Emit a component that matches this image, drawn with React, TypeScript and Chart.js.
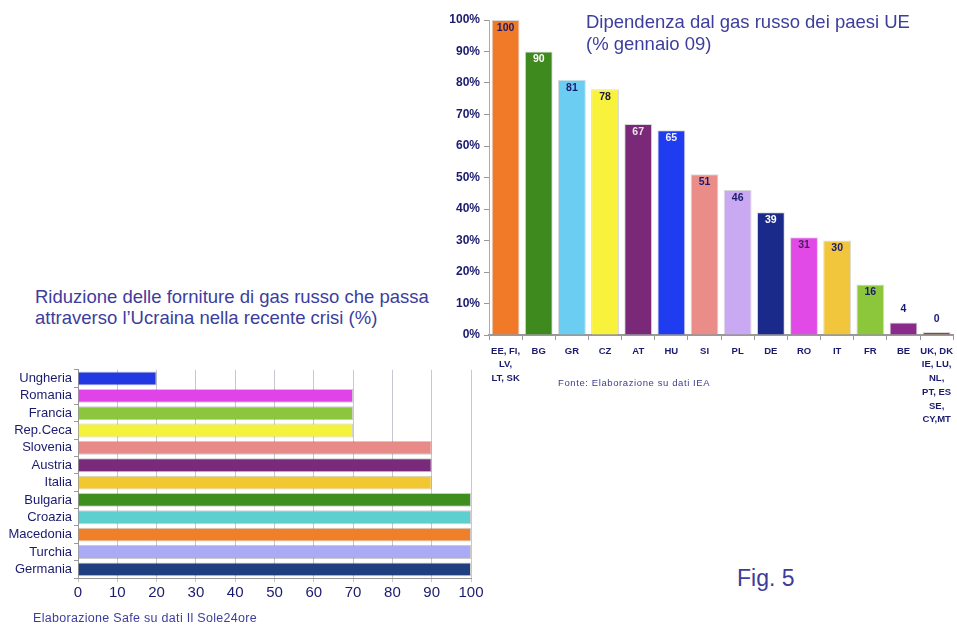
import React, { useEffect, useRef } from "react";
import { Chart, registerables } from "chart.js";

Chart.register(...registerables);

// ---------- Data: dependence on Russian gas (Jan 09) ----------
const depCategories: string[][] = [
  ["EE, FI,", "LV,", "LT, SK"],
  ["BG"], ["GR"], ["CZ"], ["AT"], ["HU"], ["SI"], ["PL"], ["DE"], ["RO"], ["IT"], ["FR"], ["BE"],
  ["UK, DK", "IE, LU,", "NL,", "PT, ES", "SE,", "CY,MT"],
];
const depValues: number[] = [100, 90, 81, 78, 67, 65, 51, 46, 39, 31, 30, 16, 4, 0];
const depTicks: number[] = [0, 10, 20, 30, 40, 50, 60, 70, 80, 90, 100];

// ---------- Data: reduction of supplies via Ukraine ----------
const redCategories: string[] = [
  "Ungheria", "Romania", "Francia", "Rep.Ceca", "Slovenia", "Austria", "Italia",
  "Bulgaria", "Croazia", "Macedonia", "Turchia", "Germania",
];
const redValues: number[] = [20, 70, 70, 70, 90, 90, 90, 100, 100, 100, 100, 100];
const redTicks: number[] = [0, 10, 20, 30, 40, 50, 60, 70, 80, 90, 100];

// ---------- Styles ----------
const depColors = [
  "#f07a28", "#3f8a1f", "#6ccdf2", "#f8f23c", "#7a2878", "#1f3cf0", "#ea8c88",
  "#c9a9f2", "#1a2a8a", "#e24ae8", "#f2c63c", "#8cc63a", "#8a2a8a", "#8a4a3a",
];
const depLabelColors = [
  "#1a1a6e", "#ffffff", "#1a1a6e", "#1a1a3a", "#f0e0f0", "#f0f0ff", "#1a1a6e",
  "#1a1a6e", "#ffffff", "#4a1a5a", "#1a1a6e", "#1a1a6e", "#1a1a6e", "#1a1a6e",
];
const redColors = [
  "#2238e0", "#e044e8", "#8cc63f", "#f4f23c", "#e88a88", "#7a2a7a", "#f2c832",
  "#3f8f1f", "#5ecfcf", "#f07f2a", "#aaaaf5", "#1f3f7f",
];

const NAVY = "#1a1a6e";
const TITLE = "#3d3d9d";

const depLabelPlugin = {
  id: "depLabels",
  afterDatasetsDraw(chart: any) {
    const ctx = chart.ctx;
    const meta = chart.getDatasetMeta(0);
    ctx.save();
    ctx.font = "bold 10.5px Arial, 'Liberation Sans', sans-serif";
    ctx.textAlign = "center";
    ctx.textBaseline = "middle";
    meta.data.forEach((bar: any, i: number) => {
      const v = depValues[i];
      const y = v >= 10 ? bar.y + 8 : bar.y - 13;
      ctx.fillStyle = depLabelColors[i];
      ctx.fillText(String(v), bar.x, y);
    });
    ctx.restore();
  },
};

function DepChart() {
  const ref = useRef<HTMLCanvasElement>(null);
  useEffect(() => {
    const chart = new Chart(ref.current!, {
      type: "bar",
      data: {
        labels: depCategories,
        datasets: [
          {
            data: depValues,
            backgroundColor: depColors,
            borderColor: depColors.map(() => "rgba(0,0,0,0.15)"),
            borderWidth: 1,
            barPercentage: 0.84,
            categoryPercentage: 1,
            minBarLength: 3,
          },
        ],
      },
      options: {
        responsive: false,
        devicePixelRatio: 1,
        animation: false,
        layout: { padding: { top: 15, right: 0, left: 0, bottom: 0 } },
        plugins: { legend: { display: false }, tooltip: { enabled: false } },
        scales: {
          x: {
            afterFit: (s: any) => { s.height = 95; },
            grid: { display: true, drawOnChartArea: false, drawTicks: true, tickLength: 5, color: "#999", offset: true },
            border: { color: "#999", width: 2 },
            ticks: {
              autoSkip: false,
              maxRotation: 0,
              minRotation: 0,
              padding: 4,
              color: NAVY,
              font: { family: "Arial, 'Liberation Sans', sans-serif", size: 9.5, weight: "bold", lineHeight: 1.45 },
            },
          },
          y: {
            min: 0,
            max: 100,
            afterFit: (s: any) => { s.width = 49; },
            afterBuildTicks: (s: any) => { s.ticks = depTicks.map((v) => ({ value: v })); },
            grid: { display: true, drawOnChartArea: false, drawTicks: true, tickLength: 5, color: "#999" },
            border: { color: "#aaa", width: 1 },
            ticks: {
              padding: 4,
              color: NAVY,
              font: { family: "Arial, 'Liberation Sans', sans-serif", size: 12, weight: "bold" },
              callback: (v: any) => v + "%",
            },
          },
        },
      },
      plugins: [depLabelPlugin],
    } as any);
    return () => chart.destroy();
  }, []);
  return <canvas ref={ref} width={517} height={425} style={{ width: 517, height: 425, display: "block" }} />;
}

function RedChart() {
  const ref = useRef<HTMLCanvasElement>(null);
  useEffect(() => {
    const chart = new Chart(ref.current!, {
      type: "bar",
      data: {
        labels: redCategories,
        datasets: [
          {
            data: redValues,
            backgroundColor: redColors,
            borderColor: redColors.map(() => "rgba(0,0,0,0.2)"),
            borderWidth: 1,
            barPercentage: 0.8,
            categoryPercentage: 1,
          },
        ],
      },
      options: {
        indexAxis: "y",
        responsive: false,
        devicePixelRatio: 1,
        animation: false,
        layout: { padding: { top: 9, right: 19, left: 0, bottom: 0 } },
        plugins: { legend: { display: false }, tooltip: { enabled: false } },
        scales: {
          x: {
            min: 0,
            max: 100,
            afterFit: (s: any) => { s.height = 30; },
            afterBuildTicks: (s: any) => { s.ticks = redTicks.map((v) => ({ value: v })); },
            grid: { display: true, drawTicks: true, tickLength: 4, color: "#c8c8d4" },
            border: { color: "#999", width: 1 },
            ticks: {
              padding: 2,
              color: NAVY,
              font: { family: "Arial, 'Liberation Sans', sans-serif", size: 15 },
            },
          },
          y: {
            afterFit: (s: any) => { s.width = 78; },
            grid: { display: true, drawOnChartArea: false, drawTicks: true, tickLength: 4, color: "#999", offset: true },
            border: { color: "#999", width: 1 },
            ticks: {
              autoSkip: false,
              padding: 2,
              color: NAVY,
              font: { family: "Arial, 'Liberation Sans', sans-serif", size: 13 },
            },
          },
        },
      },
    } as any);
    return () => chart.destroy();
  }, []);
  return <canvas ref={ref} width={490} height={248} style={{ width: 490, height: 248, display: "block" }} />;
}

export default function App() {
  const font = "Arial, 'Liberation Sans', sans-serif";
  return (
    <div style={{ position: "fixed", left: 0, top: 0, width: 957, height: 626, background: "#fff", overflow: "hidden", fontFamily: font }}>
      <div style={{ position: "absolute", left: 440, top: 5 }}>
        <DepChart />
      </div>
      <div style={{ position: "absolute", left: 586, top: 11, fontSize: 18.5, lineHeight: "22px", color: TITLE, whiteSpace: "nowrap" }}>
        Dipendenza dal gas russo dei paesi UE
        <br />
        (% gennaio 09)
      </div>
      <div style={{ position: "absolute", left: 558, top: 377, fontSize: 9.5, color: "#3d3d8d", whiteSpace: "nowrap", letterSpacing: 0.6 }}>
        Fonte: Elaborazione su dati IEA
      </div>
      <div style={{ position: "absolute", left: 35, top: 286, fontSize: 18.5, lineHeight: "21px", color: TITLE, whiteSpace: "nowrap" }}>
        Riduzione delle forniture di gas russo che passa
        <br />
        attraverso l’Ucraina nella recente crisi (%)
      </div>
      <div style={{ position: "absolute", left: 0, top: 360 }}>
        <RedChart />
      </div>
      <div style={{ position: "absolute", left: 33, top: 611, fontSize: 12.5, color: TITLE, whiteSpace: "nowrap", letterSpacing: 0.3 }}>
        Elaborazione Safe su dati Il Sole24ore
      </div>
      <div style={{ position: "absolute", left: 737, top: 565, fontSize: 23, color: TITLE, whiteSpace: "nowrap" }}>
        Fig. 5
      </div>
    </div>
  );
}
